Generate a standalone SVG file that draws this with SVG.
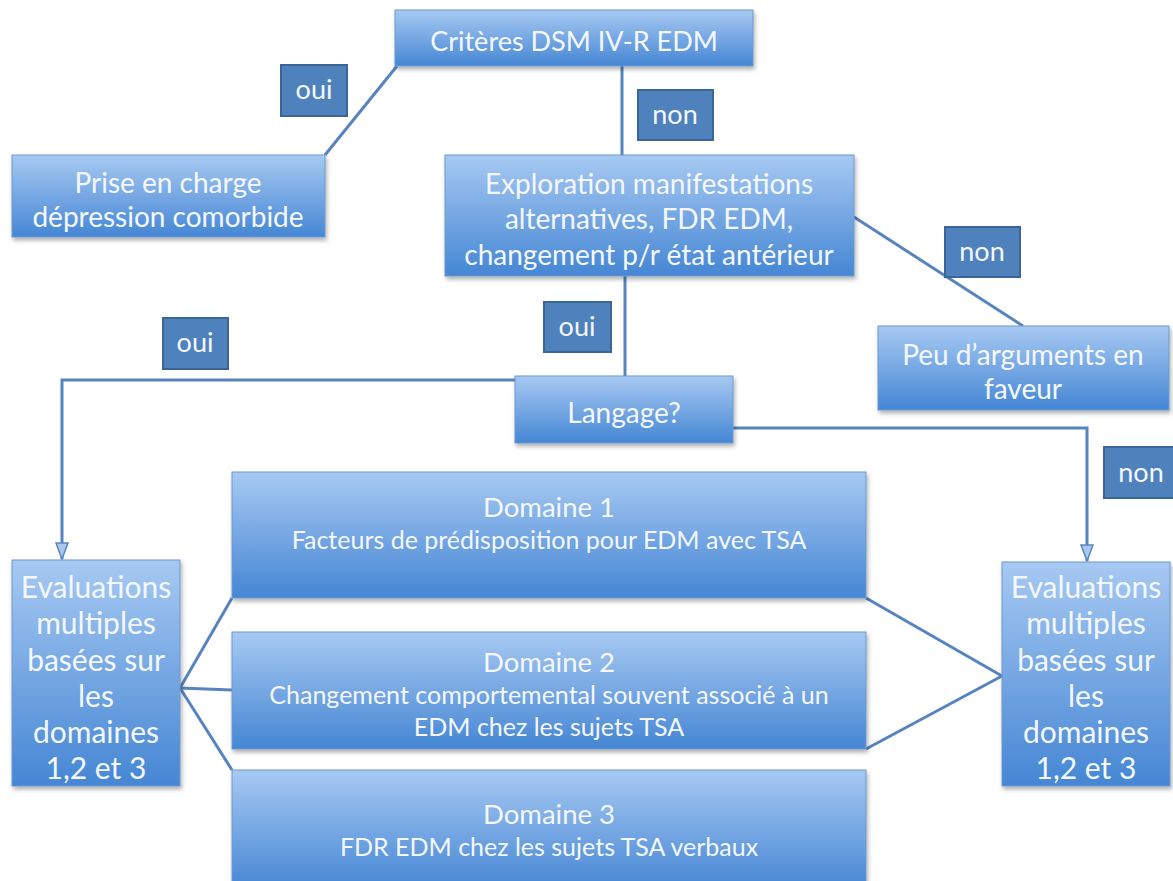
<svg xmlns="http://www.w3.org/2000/svg" width="1173" height="881" viewBox="0 0 1173 881">
<defs>
<linearGradient id="g" x1="0" y1="0" x2="0" y2="1">
<stop offset="0" stop-color="#a7c9f2"/>
<stop offset="1" stop-color="#4586d4"/>
</linearGradient>
<filter id="sh" x="-10%" y="-10%" width="125%" height="130%">
<feDropShadow dx="1.5" dy="3" stdDeviation="2" flood-color="#000" flood-opacity="0.3"/>
</filter>
<marker id="arr" markerWidth="20" markerHeight="16" refX="17" refY="7" orient="auto" markerUnits="userSpaceOnUse">
<path d="M1,1 L17,7 L1,13 Z" fill="#a9c8ee" stroke="#5a87c0" stroke-width="1.5"/>
</marker>
<style>
.box{fill:url(#g);stroke:#6b98cf;stroke-width:1;filter:url(#sh)}
.lab{fill:#4f81bd;stroke:#3b6597;stroke-width:2}
.t{font-family:Lato,"Open Sans","Liberation Sans",sans-serif;fill:#f4f8fd;text-anchor:middle}
.big{font-size:28px}
.crit{font-size:27px}
.lb{font-size:27px}
.dt{font-size:27.5px}
.sm{font-size:25px}
.ev{font-size:30px}
.conn{fill:none;stroke:#5784bf;stroke-width:3}
</style>
</defs>
<rect width="1173" height="881" fill="#fff"/>
<g id="connectors">
<line class="conn" x1="397" y1="66" x2="325" y2="155"/>
<line class="conn" x1="622" y1="66" x2="622" y2="155"/>
<line class="conn" x1="854" y1="217" x2="1023" y2="326"/>
<line class="conn" x1="625" y1="276" x2="625" y2="376"/>
<polyline class="conn" points="515,380 62,380 62,559" marker-end="url(#arr)"/>
<polyline class="conn" points="733,428 1087,428 1087,561" marker-end="url(#arr)"/>
<line class="conn" x1="180" y1="688" x2="232" y2="598"/>
<line class="conn" x1="180" y1="688" x2="232" y2="690"/>
<line class="conn" x1="180" y1="688" x2="232" y2="770"/>
<line class="conn" x1="1002" y1="676" x2="866" y2="598"/>
<line class="conn" x1="1002" y1="676" x2="866" y2="749"/>
</g>
<g id="criteres">
<rect class="box" x="395" y="10" width="358" height="56"/>
<text class="t crit" x="574" y="51">Critères DSM IV-R EDM</text>
</g>
<g id="lab-oui-1">
<rect class="lab" x="281" y="65" width="66" height="51"/>
<text class="t lb" x="314" y="99">oui</text>
</g>
<g id="prise">
<rect class="box" x="12" y="155" width="313" height="82"/>
<text class="t big" x="168" y="193">Prise en charge</text>
<text class="t big" x="168" y="227">dépression comorbide</text>
</g>
<g id="lab-non-1">
<rect class="lab" x="638" y="90" width="75" height="50"/>
<text class="t lb" x="675" y="124">non</text>
</g>
<g id="exploration">
<rect class="box" x="445" y="155" width="409" height="121"/>
<text class="t big" x="649" y="194">Exploration manifestations</text>
<text class="t big" x="649" y="229">alternatives, FDR EDM,</text>
<text class="t big" x="649" y="265">changement p/r état antérieur</text>
</g>
<g id="lab-non-2">
<rect class="lab" x="945" y="227" width="75" height="50"/>
<text class="t lb" x="982" y="261">non</text>
</g>
<g id="peu">
<rect class="box" x="878" y="326" width="291" height="84"/>
<text class="t big" x="1023" y="365">Peu d’arguments en</text>
<text class="t big" x="1023" y="399">faveur</text>
</g>
<g id="lab-oui-2">
<rect class="lab" x="544" y="302" width="67" height="50"/>
<text class="t lb" x="577" y="336">oui</text>
</g>
<g id="lab-oui-3">
<rect class="lab" x="163" y="318" width="65" height="51"/>
<text class="t lb" x="195" y="352">oui</text>
</g>
<g id="langage">
<rect class="box" x="515" y="376" width="218" height="67"/>
<text class="t big" x="624" y="423">Langage?</text>
</g>
<g id="lab-non-3">
<rect class="lab" x="1104" y="447" width="76" height="51"/>
<text class="t lb" x="1141" y="482">non</text>
</g>
<g id="domaine1">
<rect class="box" x="232" y="472" width="634" height="126"/>
<text class="t dt" x="549" y="517">Domaine 1</text>
<text class="t sm" x="549" y="549">Facteurs de prédisposition pour EDM avec TSA</text>
</g>
<g id="domaine2">
<rect class="box" x="232" y="632" width="634" height="117"/>
<text class="t dt" x="549" y="672">Domaine 2</text>
<text class="t sm" x="549" y="704">Changement comportemental souvent associé à un</text>
<text class="t sm" x="549" y="736">EDM chez les sujets TSA</text>
</g>
<g id="domaine3">
<rect class="box" x="232" y="770" width="634" height="120"/>
<text class="t dt" x="549" y="824">Domaine 3</text>
<text class="t sm" x="549" y="856">FDR EDM chez les sujets TSA verbaux</text>
</g>
<g id="eval-left">
<rect class="box" x="12" y="560" width="168" height="226"/>
<text class="t ev" x="96" y="598">Evaluations</text>
<text class="t ev" x="96" y="634">multiples</text>
<text class="t ev" x="96" y="671">basées sur</text>
<text class="t ev" x="96" y="707">les</text>
<text class="t ev" x="96" y="743">domaines</text>
<text class="t ev" x="96" y="779">1,2 et 3</text>
</g>
<g id="eval-right">
<rect class="box" x="1002" y="562" width="168" height="224"/>
<text class="t ev" x="1086" y="598">Evaluations</text>
<text class="t ev" x="1086" y="634">multiples</text>
<text class="t ev" x="1086" y="671">basées sur</text>
<text class="t ev" x="1086" y="707">les</text>
<text class="t ev" x="1086" y="743">domaines</text>
<text class="t ev" x="1086" y="779">1,2 et 3</text>
</g>
</svg>
